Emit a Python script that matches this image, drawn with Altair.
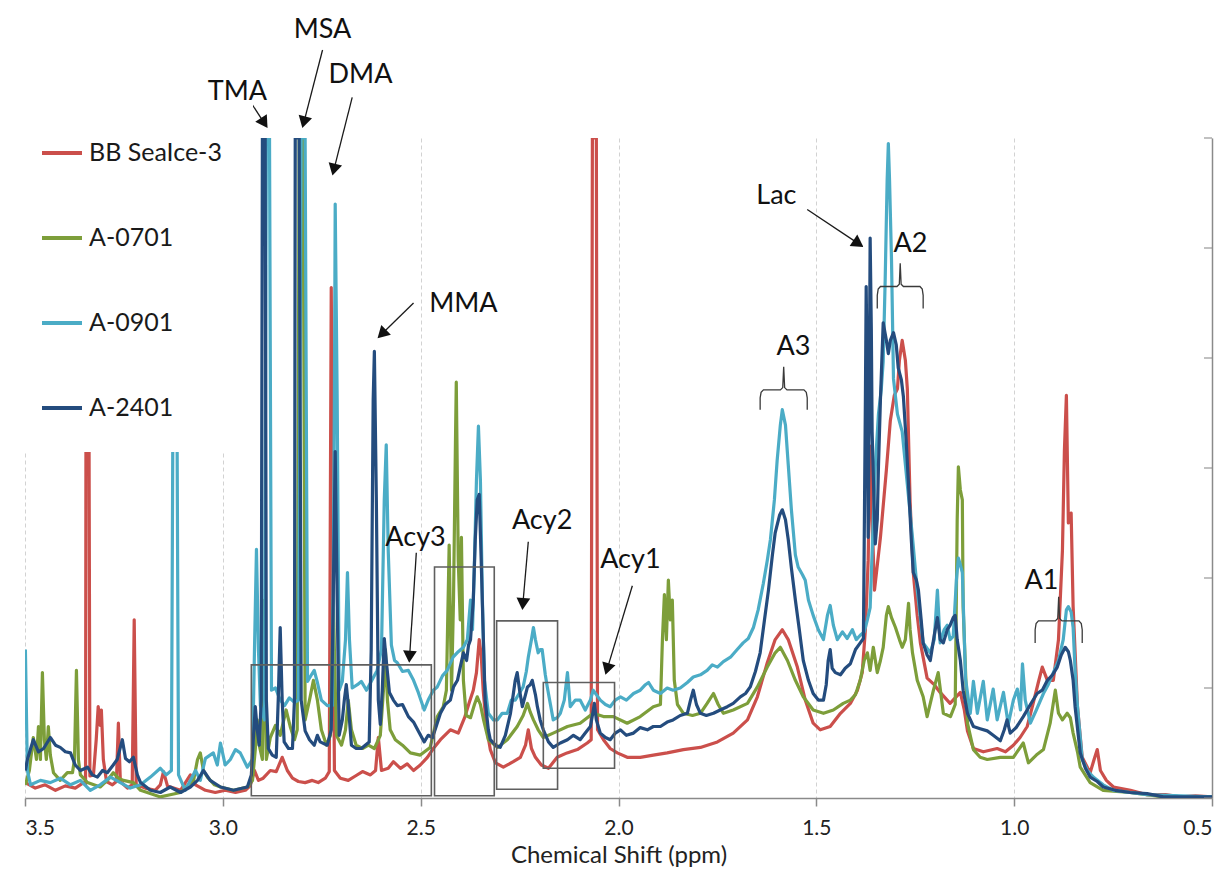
import math

import altair as alt
import pandas as pd

# ---- spectra (ppm, intensity) ----
SERIES = ["BB SeaIce-3", "A-0701", "A-0901", "A-2401"]
COLORS = ["#CB4F4B", "#7D9E3A", "#4BACC6", "#244C7E"]

red = [(3.499,0.14),(3.474,0.09),(3.449,0.12),(3.423,0.07),(3.398,0.11),(3.373,0.09),(3.352,0.14),(3.347,0.12),(3.345,6.0),(3.340,6.0),(3.336,0.20),(3.327,0.21),(3.320,0.53),(3.315,0.83),(3.310,0.66),(3.307,0.80),(3.302,0.35),(3.294,0.15),(3.279,0.12),(3.269,0.15),(3.264,0.68),(3.259,0.15),(3.241,0.09),(3.229,0.12),(3.224,1.62),(3.219,0.12),(3.196,0.09),(3.171,0.07),(3.158,0.12),(3.150,0.24),(3.140,0.11),(3.107,0.07),(3.082,0.21),(3.069,0.12),(3.044,0.07),(3.019,0.05),(2.994,0.07),(2.968,0.05),(2.943,0.07),(2.931,0.11),(2.920,0.25),(2.910,0.16),(2.898,0.18),(2.880,0.25),(2.865,0.24),(2.850,0.37),(2.837,0.25),(2.824,0.18),(2.809,0.15),(2.792,0.14),(2.774,0.16),(2.759,0.14),(2.741,0.18),(2.731,0.24),(2.726,4.64),(2.718,0.25),(2.703,0.18),(2.683,0.16),(2.665,0.20),(2.647,0.24),(2.627,0.21),(2.614,0.25),(2.607,0.55),(2.599,0.25),(2.582,0.27),(2.569,0.33),(2.551,0.27),(2.534,0.31),(2.518,0.25),(2.501,0.30),(2.483,0.37),(2.468,0.45),(2.450,0.53),(2.425,0.62),(2.405,0.59),(2.389,0.73),(2.377,0.87),(2.367,0.98),(2.359,1.14),(2.352,1.44),(2.347,1.30),(2.342,0.98),(2.334,0.65),(2.324,0.44),(2.311,0.32),(2.291,0.28),(2.266,0.33),(2.248,0.37),(2.235,0.48),(2.228,0.62),(2.220,0.45),(2.210,0.37),(2.195,0.30),(2.177,0.27),(2.155,0.37),(2.130,0.41),(2.104,0.44),(2.079,0.50),(2.069,0.53),(2.066,6.0),(2.056,6.0),(2.053,0.62),(2.038,0.53),(2.021,0.45),(2.003,0.41),(1.978,0.37),(1.945,0.37),(1.912,0.39),(1.877,0.41),(1.836,0.44),(1.793,0.46),(1.750,0.51),(1.710,0.59),(1.674,0.71),(1.649,0.92),(1.624,1.23),(1.604,1.44),(1.586,1.53),(1.571,1.44),(1.548,1.19),(1.528,0.89),(1.508,0.68),(1.490,0.62),(1.465,0.65),(1.439,0.77),(1.414,0.86),(1.396,0.98),(1.384,1.14),(1.376,1.53),(1.369,2.16),(1.364,3.20),(1.359,2.53),(1.353,1.89),(1.338,2.37),(1.323,2.98),(1.313,3.43),(1.303,3.66),(1.295,3.72),(1.290,3.98),(1.283,4.16),(1.275,3.98),(1.270,3.72),(1.263,2.69),(1.255,2.05),(1.245,1.66),(1.237,1.41),(1.220,1.09),(1.202,1.03),(1.187,0.96),(1.162,0.86),(1.136,0.96),(1.126,0.80),(1.118,0.61),(1.103,0.45),(1.078,0.42),(1.043,0.45),(1.022,0.42),(1.002,0.48),(0.985,0.55),(0.967,0.65),(0.952,0.86),(0.939,1.05),(0.929,1.19),(0.916,1.07),(0.901,1.07),(0.888,1.44),(0.878,2.25),(0.873,3.16),(0.868,3.66),(0.863,2.50),(0.856,2.59),(0.851,1.74),(0.840,0.83),(0.828,0.37),(0.808,0.23),(0.798,0.35),(0.790,0.44),(0.782,0.25),(0.767,0.16),(0.749,0.10),(0.706,0.07),(0.664,0.03),(0.618,0.03),(0.580,0.01),(0.542,0.02),(0.499,0.01)]

green = [(3.499,0.12),(3.489,0.25),(3.479,0.55),(3.471,0.35),(3.466,0.65),(3.461,0.35),(3.456,1.14),(3.451,0.53),(3.446,0.35),(3.441,0.65),(3.436,0.39),(3.428,0.23),(3.411,0.16),(3.393,0.23),(3.380,0.23),(3.375,0.35),(3.370,1.16),(3.365,0.35),(3.360,0.21),(3.342,0.14),(3.310,0.10),(3.292,0.16),(3.277,0.23),(3.264,0.18),(3.251,0.16),(3.226,0.14),(3.208,0.07),(3.191,0.05),(3.158,0.01),(3.133,0.03),(3.107,0.05),(3.087,0.12),(3.074,0.16),(3.064,0.35),(3.057,0.41),(3.049,0.25),(3.039,0.19),(3.021,0.12),(3.006,0.10),(2.973,0.07),(2.938,0.10),(2.925,0.16),(2.918,0.44),(2.913,0.71),(2.908,0.48),(2.900,0.35),(2.895,1.80),(2.890,0.35),(2.880,0.55),(2.867,0.66),(2.855,0.57),(2.840,0.80),(2.829,0.64),(2.819,0.53),(2.812,0.62),(2.807,6.0),(2.797,6.0),(2.792,0.71),(2.781,0.89),(2.771,1.07),(2.761,0.89),(2.751,0.62),(2.738,0.48),(2.728,0.57),(2.721,1.80),(2.713,0.57),(2.700,0.48),(2.690,0.62),(2.683,0.89),(2.675,0.62),(2.663,0.48),(2.647,0.45),(2.632,0.48),(2.617,0.45),(2.602,0.57),(2.594,0.98),(2.589,1.35),(2.584,0.89),(2.577,0.62),(2.564,0.53),(2.546,0.48),(2.526,0.41),(2.501,0.39),(2.476,0.46),(2.458,0.74),(2.443,0.83),(2.435,0.98),(2.428,2.30),(2.422,0.98),(2.417,1.80),(2.412,3.25),(2.410,3.78),(2.405,2.16),(2.400,1.62),(2.397,2.37),(2.392,1.07),(2.385,0.75),(2.374,0.73),(2.364,0.85),(2.357,0.92),(2.349,0.85),(2.341,0.71),(2.329,0.53),(2.306,0.46),(2.281,0.53),(2.256,0.65),(2.241,0.75),(2.230,0.86),(2.223,0.78),(2.215,0.71),(2.203,0.62),(2.190,0.55),(2.165,0.59),(2.129,0.65),(2.097,0.68),(2.064,0.77),(2.038,0.74),(2.013,0.74),(1.978,0.68),(1.945,0.74),(1.912,0.83),(1.894,0.85),(1.889,1.44),(1.884,1.85),(1.879,1.44),(1.874,1.98),(1.869,1.62),(1.864,1.80),(1.859,1.07),(1.851,0.85),(1.836,0.77),(1.813,0.75),(1.793,0.77),(1.776,0.86),(1.760,0.95),(1.748,0.85),(1.735,0.77),(1.710,0.80),(1.674,0.86),(1.649,1.01),(1.624,1.19),(1.604,1.32),(1.591,1.37),(1.573,1.25),(1.553,1.07),(1.533,0.92),(1.508,0.80),(1.482,0.77),(1.457,0.80),(1.432,0.86),(1.414,0.89),(1.401,0.94),(1.389,1.07),(1.379,1.25),(1.371,1.32),(1.364,1.16),(1.356,1.37),(1.346,1.14),(1.338,1.25),(1.331,1.37),(1.323,1.66),(1.318,1.74),(1.310,1.64),(1.300,1.55),(1.290,1.44),(1.283,1.37),(1.275,1.44),(1.267,1.77),(1.263,1.53),(1.257,1.32),(1.245,1.07),(1.230,0.92),(1.220,0.74),(1.204,0.98),(1.192,1.14),(1.179,0.77),(1.161,0.74),(1.149,0.85),(1.144,2.53),(1.141,3.01),(1.136,2.80),(1.131,2.71),(1.129,1.74),(1.118,0.68),(1.103,0.44),(1.086,0.37),(1.068,0.35),(1.035,0.37),(1.002,0.37),(0.977,0.50),(0.964,0.32),(0.944,0.39),(0.926,0.44),(0.909,0.68),(0.896,0.98),(0.888,0.77),(0.878,0.71),(0.866,0.77),(0.858,0.73),(0.851,0.59),(0.840,0.42),(0.833,0.28),(0.808,0.14),(0.775,0.07),(0.707,0.05),(0.623,0.01),(0.499,0.01)]

cyan = [(3.499,1.35),(3.494,0.25),(3.486,0.12),(3.461,0.16),(3.436,0.14),(3.411,0.18),(3.385,0.12),(3.360,0.16),(3.335,0.07),(3.310,0.12),(3.284,0.19),(3.259,0.14),(3.234,0.09),(3.208,0.12),(3.183,0.19),(3.158,0.27),(3.143,0.21),(3.130,0.25),(3.125,4.5),(3.117,4.5),(3.112,0.21),(3.095,0.07),(3.069,0.25),(3.057,0.16),(3.044,0.36),(3.024,0.41),(3.014,0.30),(3.006,0.50),(2.994,0.30),(2.981,0.35),(2.968,0.44),(2.956,0.41),(2.938,0.28),(2.925,0.35),(2.920,1.35),(2.915,2.26),(2.910,1.35),(2.905,0.84),(2.895,0.71),(2.890,6.0),(2.882,6.0),(2.877,0.98),(2.867,1.00),(2.855,0.89),(2.844,0.84),(2.832,0.91),(2.819,0.87),(2.809,0.89),(2.802,6.0),(2.792,6.0),(2.786,1.06),(2.776,1.12),(2.769,1.16),(2.761,1.05),(2.751,0.89),(2.736,0.84),(2.723,0.84),(2.718,3.62),(2.716,5.40),(2.711,3.62),(2.706,0.98),(2.698,1.06),(2.690,1.44),(2.685,2.05),(2.680,1.44),(2.673,1.00),(2.660,1.03),(2.650,1.06),(2.637,0.98),(2.625,1.06),(2.610,1.16),(2.599,1.35),(2.592,2.71),(2.587,3.21),(2.582,2.25),(2.574,1.39),(2.566,1.25),(2.559,1.23),(2.546,1.15),(2.531,1.16),(2.518,1.07),(2.506,0.96),(2.491,0.80),(2.481,0.89),(2.468,0.98),(2.458,1.01),(2.445,1.11),(2.433,1.16),(2.418,1.28),(2.405,1.33),(2.392,1.37),(2.382,1.44),(2.374,1.80),(2.369,1.53),(2.364,2.16),(2.359,2.89),(2.354,3.38),(2.349,2.89),(2.344,1.80),(2.339,1.07),(2.329,0.77),(2.316,0.71),(2.306,0.71),(2.294,0.77),(2.281,0.77),(2.271,0.89),(2.261,0.89),(2.251,0.95),(2.241,1.01),(2.233,1.15),(2.228,1.28),(2.220,1.44),(2.215,1.55),(2.210,1.44),(2.203,1.32),(2.198,1.35),(2.193,1.35),(2.185,1.12),(2.180,1.01),(2.172,0.85),(2.165,0.71),(2.155,0.73),(2.147,0.77),(2.137,0.89),(2.129,1.14),(2.122,0.83),(2.109,0.89),(2.097,0.89),(2.084,0.80),(2.071,0.89),(2.064,0.98),(2.056,0.94),(2.046,0.89),(2.033,0.85),(2.021,0.83),(2.008,0.89),(1.995,0.92),(1.980,0.89),(1.962,0.95),(1.945,0.98),(1.932,1.03),(1.924,1.05),(1.912,0.98),(1.894,0.95),(1.877,1.00),(1.862,0.98),(1.844,1.00),(1.826,1.05),(1.811,1.10),(1.793,1.12),(1.776,1.16),(1.763,1.21),(1.750,1.19),(1.735,1.24),(1.717,1.28),(1.700,1.35),(1.685,1.41),(1.672,1.45),(1.659,1.55),(1.647,1.71),(1.634,1.95),(1.624,2.16),(1.616,2.35),(1.606,2.71),(1.599,3.07),(1.591,3.39),(1.586,3.53),(1.578,3.39),(1.571,3.03),(1.563,2.62),(1.553,2.21),(1.546,2.10),(1.535,2.03),(1.528,1.98),(1.520,1.80),(1.508,1.66),(1.495,1.53),(1.482,1.44),(1.472,1.66),(1.465,1.75),(1.457,1.57),(1.447,1.44),(1.434,1.51),(1.422,1.45),(1.409,1.53),(1.399,1.44),(1.389,1.48),(1.379,1.51),(1.371,1.62),(1.364,1.73),(1.356,2.53),(1.351,3.01),(1.343,3.49),(1.336,3.71),(1.331,3.97),(1.326,4.71),(1.321,5.62),(1.318,5.95),(1.315,5.62),(1.310,4.89),(1.305,3.81),(1.295,3.49),(1.283,3.33),(1.270,2.85),(1.257,2.37),(1.245,1.89),(1.230,1.41),(1.212,1.32),(1.202,1.44),(1.194,1.89),(1.187,1.41),(1.177,1.53),(1.169,1.57),(1.162,1.44),(1.154,1.47),(1.146,1.98),(1.141,2.18),(1.136,2.12),(1.131,2.05),(1.123,1.09),(1.111,0.77),(1.103,1.06),(1.093,0.77),(1.078,1.06),(1.068,0.71),(1.053,0.99),(1.043,0.71),(1.027,0.96),(1.015,0.67),(1.002,0.89),(0.992,0.99),(0.984,0.80),(0.979,1.22),(0.972,0.89),(0.959,0.68),(0.944,0.80),(0.926,0.95),(0.914,1.03),(0.901,1.14),(0.888,1.25),(0.876,1.44),(0.868,1.71),(0.863,1.74),(0.856,1.69),(0.851,1.55),(0.846,1.16),(0.840,0.83),(0.828,0.35),(0.815,0.25),(0.800,0.19),(0.775,0.12),(0.749,0.07),(0.707,0.05),(0.664,0.03),(0.580,0.02),(0.499,0.01)]

navy = [(3.499,0.25),(3.494,0.35),(3.479,0.53),(3.466,0.42),(3.453,0.45),(3.436,0.55),(3.423,0.48),(3.411,0.46),(3.398,0.42),(3.385,0.41),(3.373,0.30),(3.360,0.25),(3.342,0.28),(3.330,0.21),(3.317,0.19),(3.304,0.25),(3.292,0.23),(3.277,0.30),(3.267,0.35),(3.254,0.53),(3.246,0.36),(3.236,0.33),(3.226,0.37),(3.216,0.21),(3.208,0.14),(3.183,0.07),(3.158,0.05),(3.133,0.10),(3.107,0.05),(3.082,0.10),(3.064,0.16),(3.049,0.25),(3.032,0.16),(3.006,0.10),(2.973,0.07),(2.938,0.10),(2.928,0.21),(2.923,0.53),(2.918,0.83),(2.913,0.62),(2.908,0.48),(2.903,0.89),(2.900,6.0),(2.893,6.0),(2.890,0.89),(2.885,0.45),(2.875,0.39),(2.865,0.37),(2.860,0.89),(2.855,1.55),(2.850,0.89),(2.845,0.51),(2.834,0.45),(2.824,0.45),(2.819,0.89),(2.817,6.0),(2.807,6.0),(2.802,0.89),(2.792,0.61),(2.781,0.53),(2.769,0.48),(2.761,0.57),(2.754,0.51),(2.736,0.48),(2.726,0.62),(2.721,1.80),(2.716,3.15),(2.711,1.80),(2.706,0.57),(2.698,0.71),(2.693,0.89),(2.688,1.03),(2.683,0.85),(2.675,0.48),(2.663,0.45),(2.650,0.45),(2.640,0.48),(2.630,0.51),(2.625,1.35),(2.620,3.62),(2.617,4.06),(2.612,2.71),(2.607,0.89),(2.602,0.67),(2.597,0.98),(2.592,1.45),(2.587,1.25),(2.579,0.96),(2.569,0.89),(2.559,0.84),(2.546,0.85),(2.531,0.74),(2.518,0.69),(2.506,0.61),(2.491,0.51),(2.481,0.57),(2.470,0.55),(2.460,0.66),(2.450,0.77),(2.438,0.85),(2.425,0.89),(2.417,1.01),(2.407,1.07),(2.400,1.19),(2.392,1.32),(2.384,1.25),(2.379,1.39),(2.374,1.44),(2.367,1.80),(2.362,2.35),(2.357,2.71),(2.352,2.76),(2.347,2.16),(2.342,1.50),(2.337,0.89),(2.329,0.62),(2.324,0.53),(2.311,0.48),(2.299,0.46),(2.286,0.57),(2.273,0.77),(2.266,0.94),(2.261,1.07),(2.256,1.14),(2.250,0.98),(2.243,0.83),(2.235,0.94),(2.230,1.01),(2.223,1.03),(2.218,1.07),(2.210,0.94),(2.205,0.83),(2.198,0.71),(2.190,0.62),(2.177,0.51),(2.165,0.46),(2.147,0.50),(2.129,0.53),(2.114,0.57),(2.097,0.53),(2.084,0.59),(2.071,0.65),(2.066,0.75),(2.061,0.86),(2.056,0.71),(2.046,0.59),(2.033,0.55),(2.021,0.53),(2.008,0.59),(1.995,0.62),(1.980,0.57),(1.962,0.59),(1.945,0.64),(1.927,0.62),(1.912,0.65),(1.894,0.65),(1.877,0.69),(1.862,0.71),(1.844,0.75),(1.826,0.77),(1.818,0.89),(1.811,0.98),(1.803,0.85),(1.793,0.77),(1.778,0.75),(1.760,0.77),(1.743,0.80),(1.725,0.83),(1.710,0.86),(1.692,0.92),(1.679,0.95),(1.667,1.01),(1.654,1.15),(1.642,1.32),(1.631,1.62),(1.621,1.89),(1.611,2.21),(1.604,2.41),(1.593,2.57),(1.586,2.62),(1.578,2.53),(1.571,2.35),(1.563,2.09),(1.553,1.80),(1.543,1.53),(1.533,1.25),(1.520,1.07),(1.508,0.95),(1.495,0.89),(1.482,0.89),(1.475,1.03),(1.470,1.25),(1.465,1.35),(1.460,1.18),(1.452,1.14),(1.439,1.12),(1.427,1.18),(1.414,1.22),(1.401,1.35),(1.389,1.41),(1.381,1.45),(1.376,3.62),(1.374,4.65),(1.371,3.62),(1.369,2.37),(1.366,3.80),(1.364,5.09),(1.361,4.25),(1.359,3.33),(1.353,2.53),(1.351,2.31),(1.346,2.53),(1.343,3.01),(1.338,3.62),(1.331,4.32),(1.323,4.16),(1.318,4.04),(1.313,4.16),(1.305,4.23),(1.298,4.12),(1.293,3.91),(1.285,3.80),(1.280,3.65),(1.273,3.25),(1.267,2.85),(1.260,2.35),(1.255,2.05),(1.247,1.98),(1.242,1.89),(1.235,1.62),(1.230,1.41),(1.220,1.30),(1.212,1.25),(1.202,1.48),(1.194,1.64),(1.187,1.44),(1.179,1.41),(1.169,1.53),(1.162,1.57),(1.154,1.64),(1.149,1.66),(1.144,1.44),(1.136,1.25),(1.129,0.98),(1.118,0.77),(1.103,0.65),(1.086,0.63),(1.068,0.61),(1.053,0.57),(1.035,0.52),(1.025,0.62),(1.018,0.71),(1.010,0.59),(0.995,0.64),(0.977,0.74),(0.959,0.85),(0.942,0.95),(0.929,0.98),(0.916,1.07),(0.903,1.12),(0.891,1.19),(0.881,1.30),(0.871,1.37),(0.863,1.33),(0.858,1.25),(0.851,1.07),(0.846,0.83),(0.838,0.57),(0.833,0.41),(0.820,0.27),(0.808,0.19),(0.790,0.15),(0.775,0.10),(0.744,0.07),(0.707,0.05),(0.664,0.04),(0.623,0.01),(0.499,0.01)]

X_TICKS = [3.5, 3.0, 2.5, 2.0, 1.5, 1.0, 0.5]
Y_TICKS = [0, 1, 2, 3, 4, 5, 6]

# annotations (data coordinates)
LABELS = ["TMA", "MSA", "DMA", "MMA", "Lac", "A2", "A3", "A1", "Acy3", "Acy2", "Acy1"]
LABEL_PPM = [2.963, 2.748, 2.652, 2.392, 1.601, 1.262, 1.558, 0.931, 2.513, 2.193, 1.970]
LABEL_Y = [6.35, 6.91, 6.50, 4.42, 5.40, 4.96, 4.03, 1.90, 2.29, 2.45, 2.09]

ARROW_FROM = [(2.925, 6.30), (2.748, 6.80), (2.673, 6.37), (2.518, 4.50),
              (1.523, 5.35), (2.511, 2.23), (2.228, 2.33), (1.965, 1.93)]
ARROW_TO = [(2.887, 6.09), (2.799, 6.09), (2.723, 5.66), (2.609, 4.18),
            (1.381, 5.01), (2.529, 1.23), (2.243, 1.71), (2.033, 1.12)]

BOX_PPM = [(2.928, 2.473), (2.465, 2.314), (2.308, 2.154), (2.190, 2.010)]
BOX_Y = [(0.02, 1.21), (0.02, 2.10), (0.08, 1.61), (0.27, 1.05)]

# brace: left ppm, right ppm, foot, bar, tip
BRACES = {"A3": (1.642, 1.523, 3.53, 3.71, 3.92),
          "A2": (1.346, 1.230, 4.45, 4.65, 4.86),
          "A1": (0.947, 0.828, 1.41, 1.61, 1.83)}

W, H = 1187, 660
PX_PPM, PX_Y = W / 3, H / 6
HEAD = 190  # arrowhead symbol size

rows = []
for name, pts in zip(SERIES, [red, green, cyan, navy]):
    for i, (p, v) in enumerate(pts):
        rows.append({"series": name, "ppm": p, "intensity": v, "i": i})
spec = pd.DataFrame(rows)

x_scale = alt.Scale(domain=[0.5, 3.5], reverse=True, nice=False, zero=False)
y_scale = alt.Scale(domain=[0, 6], nice=False, zero=False)
color_scale = alt.Scale(domain=SERIES, range=COLORS)

x_axis = alt.Axis(values=X_TICKS, format=".1f", title="Chemical Shift (ppm)",
                  grid=True, gridDash=[4, 3], gridColor="#d2d2d2", gridWidth=1,
                  domainColor="#8a8a8a", domainWidth=1.5, tickColor="#8a8a8a",
                  tickSize=8, tickWidth=1.5, labelFont="Lato", labelFontSize=21,
                  labelColor="#222222", labelPadding=11, titleFont="Lato",
                  titleFontSize=24, titleFontWeight="normal", titleColor="#222222",
                  titlePadding=5)
y_axis = alt.Axis(orient="right", values=Y_TICKS, labels=False, ticks=False,
                  grid=False, title=None, domainColor="#8a8a8a", domainWidth=1.5)
legend = alt.Legend(title=None, orient="none", legendX=-16, legendY=-38,
                    symbolType="stroke", symbolStrokeWidth=4, symbolSize=1600,
                    labelFont="Lato", labelFontSize=25, labelColor="#1a1a1a",
                    rowPadding=50, padding=31, fillColor="white", labelOffset=5,
                    labelLimit=300)


def X(field):
    return alt.X(field, scale=x_scale, axis=x_axis)


def Y(field):
    return alt.Y(field, scale=y_scale, axis=y_axis)


def spectrum(name):
    return alt.Chart(spec[spec.series == name]).mark_line(
        strokeWidth=3.2, strokeJoin="round", clip=True
    ).encode(
        x=X("ppm:Q"),
        y=Y("intensity:Q"),
        color=alt.Color("series:N", scale=color_scale, legend=legend),
        order="i:Q",
    )


lines = [spectrum(n) for n in SERIES]

# inward ticks on the right axis
right_ticks = alt.Chart(pd.DataFrame({"v": Y_TICKS})).mark_tick(
    orient="horizontal", size=8, thickness=1.5, color="#8a8a8a", xOffset=-4
).encode(x=alt.XDatum(0.5, scale=x_scale, axis=x_axis), y=Y("v:Q"))

boxes = alt.Chart(pd.DataFrame({
    "p1": [b[0] for b in BOX_PPM], "p2": [b[1] for b in BOX_PPM],
    "y1": [b[0] for b in BOX_Y], "y2": [b[1] for b in BOX_Y],
})).mark_rect(filled=False, stroke="#5f5f5f", strokeWidth=1.6).encode(
    x=X("p1:Q"), x2="p2:Q", y=Y("y1:Q"), y2="y2:Q",
)

# curly braces built from a small template
template = [(0, -1), (0, -0.4), (0.02, -0.12), (0.07, 0), (0.43, 0), (0.48, 0.1),
            (0.5, 1), (0.52, 0.1), (0.57, 0), (0.93, 0), (0.98, -0.12), (1, -0.4), (1, -1)]
brace_rows = []
for key, (left, right, foot, bar, tip) in BRACES.items():
    for j, (f, g) in enumerate(template):
        y = bar + g * (bar - foot) if g < 0 else bar + g * (tip - bar)
        brace_rows.append({"b": key, "j": j, "ppm": left + f * (right - left), "y": y})
braces = alt.Chart(pd.DataFrame(brace_rows)).mark_line(
    color="#3a3a3a", strokeWidth=1.3
).encode(x=X("ppm:Q"), y=Y("y:Q"), detail="b:N", order="j:Q")

# arrows: shaft + rotated triangle head
arrow_rows = []
h = 0.433 * math.sqrt(HEAD)
for (fp, fy), (tp, ty) in zip(ARROW_FROM, ARROW_TO):
    dx = -(tp - fp) * PX_PPM
    dy = -(ty - fy) * PX_Y
    L = math.hypot(dx, dy)
    ux, uy = dx / L, dy / L
    cp = tp + ux * h / PX_PPM
    cy = ty + uy * h / PX_Y
    ang = math.degrees(math.atan2(dx, -dy)) % 360
    arrow_rows.append({"fp": fp, "fy": fy, "cp": cp, "cy": cy, "ang": ang})
arrows = pd.DataFrame(arrow_rows)

shafts = alt.Chart(arrows).mark_rule(color="#1a1a1a", strokeWidth=1.3).encode(
    x=X("fp:Q"), x2="cp:Q", y=Y("fy:Q"), y2="cy:Q",
)
heads = alt.Chart(arrows).mark_point(
    shape="triangle-up", filled=True, color="#111111", opacity=1, size=HEAD
).encode(x=X("cp:Q"), y=Y("cy:Q"), angle=alt.Angle("ang:Q", scale=None))

labels = alt.Chart(pd.DataFrame({"t": LABELS, "p": LABEL_PPM, "y": LABEL_Y})).mark_text(
    font="Lato", fontSize=27, align="center", baseline="alphabetic", color="#111111"
).encode(x=X("p:Q"), y=Y("y:Q"), text="t:N")

chart = alt.layer(
    *lines, boxes, braces, right_ticks, shafts, heads, labels
).properties(
    width=W, height=H,
    autosize=alt.AutoSizeParams(type="none"),
    padding={"left": 17, "top": 130, "right": 6, "bottom": 75},
).configure_view(strokeWidth=0)

chart.save("out.html", embed_options={"renderer": "svg", "actions": False})
